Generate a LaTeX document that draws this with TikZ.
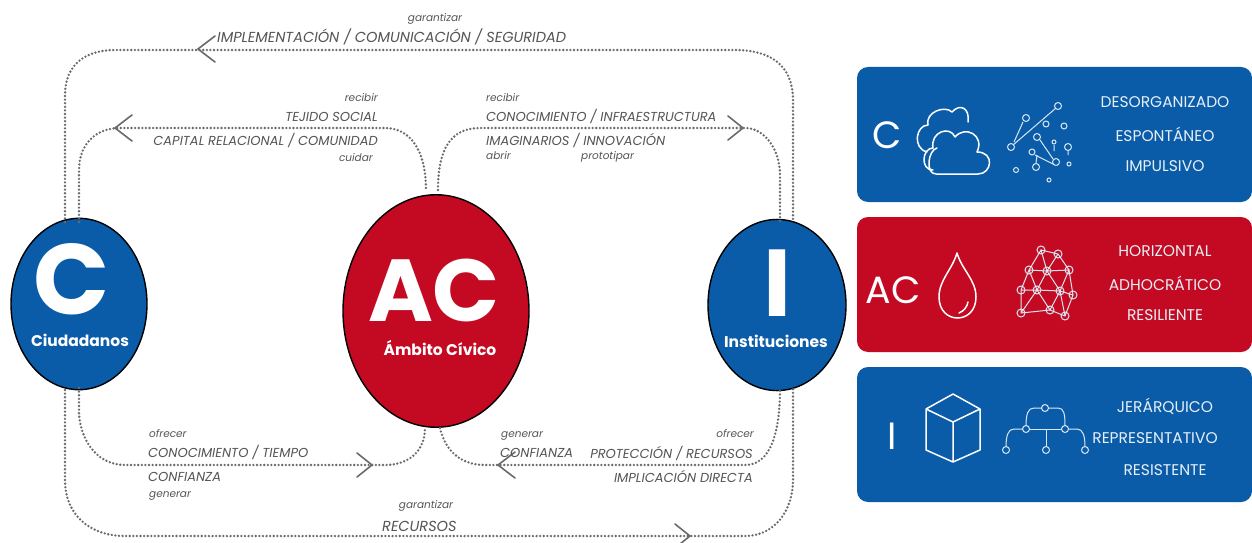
\documentclass[tikz,border=0pt]{standalone}
\usepackage{fontspec}
\setmainfont{Poppins}
\usetikzlibrary{arrows.meta,decorations.markings}
\definecolor{cblue}{HTML}{0B5CA8}
\definecolor{cred}{HTML}{C40A22}
\definecolor{dotc}{HTML}{6A6A6A}
\definecolor{txtc}{HTML}{555555}
\tikzset{
 x=1pt,y=-1pt,
 dotline/.style={draw=dotc,line width=2.6pt,line cap=round,dash pattern=on 0pt off 3.6pt},
 chev/.style={draw=dotc,line width=1.6pt,line cap=round},
 lab/.style={text=txtc,font=\fontsize{14.5}{16}\selectfont\itshape,inner sep=0pt},
 verb/.style={text=txtc,font=\fontsize{10.5}{12}\selectfont\itshape,inner sep=0pt},
 bigc/.style={circle,draw=black,line width=1.4pt,inner sep=0pt},
 panel/.style={rounded corners=11pt,inner sep=0pt,minimum width=395pt},
 ptxt/.style={text=white!88!cblue,font=\fontsize{15.5}{17}\selectfont\scshape\relax,inner sep=0pt},
 ptx/.style={text=white!90!cblue,font=\fontsize{15.5}{17}\selectfont,inner sep=0pt},
 icon/.style={draw=white,line width=1.5pt,line join=round,line cap=round},
 net/.style={draw=white!85!cblue,line width=1pt},
}
\newcommand{\chevL}[2]{\draw[chev] (#1+17,#2-13)--(#1,#2)--(#1+17,#2+13);}
\newcommand{\chevR}[2]{\draw[chev] (#1-15,#2-12)--(#1,#2)--(#1-15,#2+12);}
\begin{document}
\begin{tikzpicture}
\useasboundingbox (0,0) rectangle (1252,543);
\fill[white] (0,0) rectangle (1252,543);
% circle nodes
\node[bigc,fill=cblue,minimum width=136pt,minimum height=136pt,xscale=1,yscale=1.26] (C) at (79,304) {};
\node[bigc,fill=cred,minimum width=186pt,minimum height=186pt,yscale=1.25] (AC) at (436,311) {};
\node[bigc,fill=cblue,minimum width=138pt,minimum height=138pt,yscale=1.24] (I) at (777,305) {};
\node[text=white,font=\fontsize{100}{100}\selectfont\bfseries,inner sep=0pt] (Cl) at (72,279) {C};
\node[text=white,font=\fontsize{15.5}{17}\selectfont\bfseries,inner sep=0pt] (Ct) at (80,340) {Ciudadanos};
\node[text=white,font=\fontsize{88}{90}\selectfont\bfseries,inner sep=0pt] (ACl) at (434,290) {AC};
\node[text=white,font=\fontsize{15.5}{17}\selectfont\bfseries,inner sep=0pt] (ACt) at (440,348) {Ámbito Cívico};
\node[text=white,font=\fontsize{95}{95}\selectfont\bfseries,inner sep=0pt] (Il) at (778,283) {I};
\node[text=white,font=\fontsize{15.5}{17}\selectfont\bfseries,inner sep=0pt] (It) at (776,341) {Instituciones};
% coordinates on the node borders
\coordinate (c1) at (65,222);
\coordinate (c2) at (79,222);
\coordinate (c3) at (65,390);
\coordinate (c4) at (79,388);
\coordinate (a1) at (426,190);
\coordinate (a2) at (438,190);
\coordinate (a3) at (425,428);
\coordinate (a4) at (440,428);
\coordinate (i1) at (780,222);
\coordinate (i2) at (793,222);
\coordinate (i3) at (780,388);
\coordinate (i4) at (793,388);
% connectors
\draw[dotline] (c1) -- (65,95) .. controls (65,65) and (85,50) .. (115,50) -- (735,50) .. controls (770,50) and (793,65) .. (793,100) -- (i2);
\draw[dotline] (c2) -- (79,170) .. controls (79,145) and (95,128) .. (120,128) -- (385,128) .. controls (410,128) and (426,150) .. (a1);
\draw[dotline] (a2) .. controls (438,150) and (450,128) .. (480,128) -- (745,128) .. controls (765,128) and (780,150) .. (780,175) -- (i1);
\draw[dotline] (c4) -- (79,415) .. controls (82,445) and (100,465) .. (125,465) -- (385,465) .. controls (410,465) and (425,450) .. (a3);
\draw[dotline] (a4) .. controls (445,450) and (460,465) .. (485,465) -- (745,465) .. controls (765,465) and (780,445) .. (i3);
\draw[dotline] (c3) -- (65,480) .. controls (65,515) and (90,536) .. (125,536) -- (745,536) .. controls (775,536) and (793,510) .. (793,480) -- (i4);
\chevL{198}{49}
\chevL{115}{128}
\chevR{743}{128}
\chevR{372}{465}
\chevL{498}{465}
\chevR{690}{536}
% labels
\node[verb,anchor=base] (t1) at (435,22) {garantizar};
\node[lab,anchor=base west] (t2) at (217,43) {IMPLEMENTACIÓN / COMUNICACIÓN / SEGURIDAD};
\node[verb,anchor=base east] (t3) at (378,101) {recibir};
\node[lab,anchor=base east,font=\fontsize{13}{15}\selectfont\itshape] (t4) at (378,121) {TEJIDO SOCIAL};
\node[lab,anchor=base east,font=\fontsize{13}{15}\selectfont\itshape] (t5) at (378,145) {CAPITAL RELACIONAL / COMUNIDAD};
\node[verb,anchor=base east] (t6) at (373,161) {cuidar};
\node[verb,anchor=base west] (t7) at (486,101) {recibir};
\node[lab,anchor=base west,font=\fontsize{13}{15}\selectfont\itshape] (t8) at (486,121) {CONOCIMIENTO / INFRAESTRUCTURA};
\node[lab,anchor=base west,font=\fontsize{13}{15}\selectfont\itshape] (t9) at (486,145) {IMAGINARIOS / INNOVACIÓN};
\node[verb,anchor=base west] (t10) at (486,159) {abrir};
\node[verb,anchor=base west] (t11) at (581,159) {prototipar};
\node[verb,anchor=base west] (t12) at (149,437) {ofrecer};
\node[lab,anchor=base west,font=\fontsize{13}{15}\selectfont\itshape] (t13) at (148,457) {CONOCIMIENTO / TIEMPO};
\node[lab,anchor=base west,font=\fontsize{13}{15}\selectfont\itshape] (t14) at (148,481) {CONFIANZA};
\node[verb,anchor=base west] (t15) at (149,497) {generar};
\node[verb,anchor=base west] (t16) at (501,437) {generar};
\node[lab,anchor=base west,font=\fontsize{13}{15}\selectfont\itshape] (t17) at (500,457) {CONFIANZA};
\node[lab,anchor=base east,font=\fontsize{13}{15}\selectfont\itshape] (t18) at (753,458) {PROTECCIÓN / RECURSOS};
\node[verb,anchor=base east] (t19) at (754,437) {ofrecer};
\node[lab,anchor=base east,font=\fontsize{13}{15}\selectfont\itshape] (t20) at (753,482) {IMPLICACIÓN DIRECTA};
\node[verb,anchor=base] (t21) at (426,508) {garantizar};
\node[lab,anchor=base west] (t22) at (382,531) {RECURSOS};
% panels
\fill[cblue,rounded corners=11pt] (857,67) rectangle (1252,202);
\fill[cred,rounded corners=11pt] (857,217) rectangle (1252,352);
\fill[cblue,rounded corners=11pt] (857,367) rectangle (1252,502);
% panel text
\foreach \n/\x/\y/\t in {a/1165/102/DESORGANIZADO,b/1165/134/ESPONTÁNEO,c/1165/166/IMPULSIVO,d/1165/251/HORIZONTAL,e/1165/283/ADHOCRÁTICO,f/1165/315/RESILIENTE,g/1165/406/JERÁRQUICO,h/1155/438/REPRESENTATIVO,i/1165/470/RESISTENTE}
  \node[ptx] (p\n) at (\x,\y) {\t};
\node[text=white,font=\fontsize{38}{40}\selectfont,inner sep=0pt] (pc) at (887,135) {C};
\node[text=white,font=\fontsize{38}{40}\selectfont,inner sep=0pt] (pac) at (893,290) {AC};
\node[text=white,font=\fontsize{38}{40}\selectfont,inner sep=0pt] (pi) at (892,436) {I};
% cloud
\draw[icon] (933,170) .. controls (920,170) and (922,148) .. (933,148) .. controls (930,132) and (950,125) .. (955,137) .. controls (965,125) and (985,135) .. (977,152) .. controls (995,152) and (992,174) .. (978,174) -- (936,174) .. controls (925,174) and (928,150) .. (937,148);
\draw[icon] (927,152) .. controls (912,148) and (916,125) .. (928,125) .. controls (925,112) and (945,105) .. (952,112) .. controls (960,103) and (970,108) .. (968,122);
% scattered network
\foreach \x/\y/\r in {1058/106/3.5,1026/118/3.5,1011/147/3.5,1046/124/3,1064/126/3,1037/137/3.5,1068/147/3.5,1056/162/3.5,1032/152/3,1036/167/3.5,1016/170/2.5,1069/164/2,1049/180/2,1054/142/2}
  \draw[net] (\x,\y) circle (\r);
\draw[net] (1013,145)--(1056,108) (1023,122)--(1014,142) (1040,140)--(1053,159) (1035,155)--(1053,164) (1037,155)--(1036,163) (1054,145)--(1054,151) (1068,151)--(1068,155);
% drop
\draw[icon] (957,253) .. controls (962,270) and (976,280) .. (976,297) .. controls (976,325) and (939,325) .. (939,297) .. controls (939,280) and (952,270) .. (957,253) -- cycle;
\draw[icon] (959,313) .. controls (964,311) and (967,307) .. (968,302);
% mesh
\foreach \a/\b in {1041/250,1058/254,1029/270,1047/271,1069/270,1021/290,1037/290,1060/291,1073/295,1021/313,1050/310,1065/316}
  \draw[net] (\a,\b) circle (4);
\draw[net] (1041,250)--(1058,254)--(1069,270)--(1073,295)--(1065,316)--(1050,310)--(1021,313)--(1021,290)--(1029,270)--(1041,250)--(1047,271)--(1069,270)--(1060,291)--(1037,290)--(1047,271)--(1058,254) (1029,270)--(1037,290)--(1021,290) (1037,290)--(1050,310)--(1060,291)--(1073,295) (1060,291)--(1065,316) (1037,290)--(1021,313) (1029,270)--(1047,271) (1047,271)--(1060,291);
% cube
\draw[icon] (953,394)--(980,409)--(980,450)--(953,462)--(926,450)--(926,409)--cycle (926,409)--(953,422)--(980,409) (953,422)--(953,462);
% hierarchy
\foreach \a/\b in {1045/408,1026/429,1065/429,1006/450,1046/450,1085/450}
  \draw[net] (\a,\b) circle (3.5);
\draw[net] (1042,408)--(1034,408) .. controls (1028,408) and (1026,414) .. (1026,426);
\draw[net] (1048,408)--(1058,408) .. controls (1064,408) and (1065,414) .. (1065,426);
\draw[net] (1029,429)--(1062,429);
\draw[net] (1046,429)--(1046,447);
\draw[net] (1023,429)--(1014,429) .. controls (1008,429) and (1006,436) .. (1006,447);
\draw[net] (1068,429)--(1077,429) .. controls (1083,429) and (1085,436) .. (1085,447);
\end{tikzpicture}
\end{document}
